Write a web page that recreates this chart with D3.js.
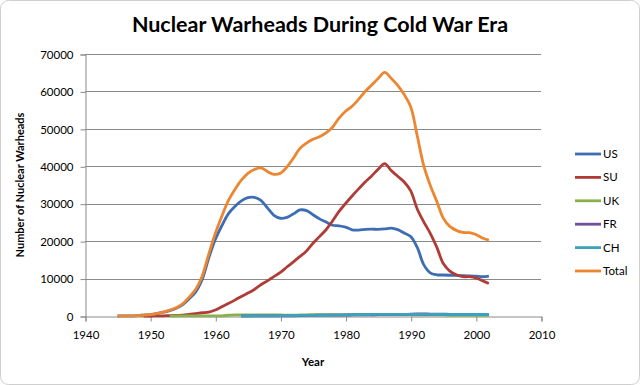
<!DOCTYPE html>
<html lang="en">
<head>
    <meta charset="UTF-8">
    <script src="https://d3js.org/d3.v7.min.js"></script>
    <title>Nuclear Warheads During Cold War Era</title>
    <style>
    body { margin: 0; background: #fff; }
    text { font-family: Lato, "Open Sans", sans-serif; fill: #000; }
    </style>
</head>
<body>
<div class="content"></div>
<script>
// nam bat dau cua cac chuoi (1945 ... 2002)
var years = d3.range(1945, 2003);
var xTicks = [1940, 1950, 1960, 1970, 1980, 1990, 2000, 2010];
var yTicks = [0, 10000, 20000, 30000, 40000, 50000, 60000, 70000];
var seriesNames = ['US', 'SU', 'UK', 'FR', 'CH', 'Total'];

// gia tri doc tu hinh, null = chua co
var us = [6, 11, 32, 110, 235, 369, 640, 1005, 1436, 2063, 3057, 4618, 6444, 9822, 15468, 20434,
    24111, 27297, 29249, 30751, 31642, 31700, 30893, 28884, 26910, 26119, 26365, 27296, 28335, 28170,
    27052, 25956, 25099, 24243, 24107, 23764, 23031, 22937, 23154, 23228, 23135, 23254, 23490, 23077,
    22174, 21211, 18306, 13731, 11536, 11012, 10953, 10886, 10829, 10763, 10698, 10615, 10491, 10640];
var su = [null, null, null, null, 1, 5, 25, 50, 120, 150, 200, 426, 660, 869, 1060, 1605,
    2471, 3322, 4238, 5221, 6129, 7089, 8339, 9399, 10538, 11643, 13092, 14478, 15915, 17385,
    19443, 21205, 23044, 25393, 27935, 30062, 32049, 33952, 35804, 37431, 39197, 40723, 38859, 37333,
    35805, 33417, 28595, 25155, 22101, 18399, 14000, 12000, 11000, 10500, 10500, 10200, 9400, 8700];
var uk = [null, null, null, null, null, null, null, null, 1, 5, 10, 15, 20, 22, 25, 30,
    50, 205, 280, 310, 310, 310, 270, 280, 308, 280, 220, 220, 275, 325,
    350, 350, 350, 350, 350, 350, 350, 350, 350, 350, 350, 350, 350, 350,
    350, 350, 300, 300, 300, 300, 300, 200, 200, 200, 200, 200, 200, 200];
var fr = [null, null, null, null, null, null, null, null, null, null, null, null, null, null, null, null,
    null, null, null, 4, 32, 36, 36, 36, 36, 36, 45, 70, 116, 145,
    188, 212, 228, 235, 235, 250, 274, 279, 280, 280, 360, 355, 420, 411,
    412, 504, 538, 540, 525, 510, 500, 450, 450, 450, 450, 350, 350, 350];
var ch = [null, null, null, null, null, null, null, null, null, null, null, null, null, null, null, null,
    null, null, null, 1, 5, 20, 25, 35, 50, 75, 100, 130, 150, 170,
    185, 190, 200, 220, 235, 280, 330, 360, 380, 414, 426, 423, 430, 430,
    430, 430, 435, 435, 435, 400, 400, 400, 400, 400, 400, 400, 400, 400];
var total = [6, 11, 32, 110, 236, 374, 665, 1055, 1557, 2218, 3267, 5059, 7124, 10713, 16553, 22069,
    26632, 30824, 33767, 36287, 38118, 39155, 39563, 38634, 37842, 38153, 39822, 42194, 44791, 46195,
    47218, 47913, 48921, 50441, 52862, 54706, 56034, 57878, 59968, 61703, 63468, 65105, 63549, 61601,
    59171, 55912, 48174, 40161, 34897, 30621, 26153, 23936, 22879, 22313, 22248, 21765, 20841, 20290];

var seriesValues = [us, su, uk, fr, ch, total];
var colors = ['#3d6db3', '#b03c38', '#8ab14c', '#6f519a', '#3aa2bd', '#ec8630'];

var p = { width: 640, height: 385, left: 85, right: 541, top: 54, bottom: 316 };

var svg = d3.select('.content').append('svg')
    .attr('width', p.width)
    .attr('height', p.height);

// khung ngoai
svg.append('rect')
    .attr('x', 0.5).attr('y', 0.5)
    .attr('width', p.width - 1).attr('height', p.height - 1)
    .attr('rx', 8)
    .attr('fill', '#fff')
    .attr('stroke', '#cfcfcf');

var x = d3.scaleLinear().domain([1940, 2010]).range([p.left, p.right]);
var y = d3.scaleLinear().domain([0, 70000]).range([p.bottom, p.top]);

// luoi ngang
svg.append('g')
    .selectAll('line')
    .data(yTicks.slice(1))
    .enter().append('line')
    .attr('x1', p.left).attr('x2', p.right)
    .attr('y1', function(d) { return Math.round(y(d)) + 0.5; })
    .attr('y2', function(d) { return Math.round(y(d)) + 0.5; })
    .attr('stroke', '#8a8a8a');

// truc y
var yAxis = svg.append('g')
    .attr('transform', 'translate(' + (p.left + 0.5) + ',0.5)')
    .call(d3.axisLeft(y).tickValues(yTicks).tickSize(5).tickPadding(7).tickFormat(d3.format('d')));
yAxis.select('.domain').attr('stroke', '#8a8a8a');
yAxis.selectAll('.tick line').attr('stroke', '#8a8a8a');
yAxis.selectAll('text').style('font-size', '11.5px').attr('fill', '#000');

// truc x
var xAxis = svg.append('g')
    .attr('transform', 'translate(0.5,' + (p.bottom + 0.5) + ')')
    .call(d3.axisBottom(x).tickValues(xTicks).tickSize(5).tickPadding(9).tickFormat(d3.format('d')));
xAxis.select('.domain').attr('stroke', '#8a8a8a');
xAxis.selectAll('.tick line').attr('stroke', '#8a8a8a');
xAxis.selectAll('text').style('font-size', '11.5px').attr('fill', '#000');

// duong du lieu
var line = d3.line()
    .defined(function(d) { return d[1] !== null; })
    .x(function(d) { return x(d[0]); })
    .y(function(d) { return y(d[1]); })
    .curve(d3.curveCatmullRom.alpha(0.5));

seriesValues.forEach(function(vals, i) {
    svg.append('path')
        .datum(years.map(function(yr, j) { return [yr, vals[j]]; }))
        .attr('d', line)
        .attr('fill', 'none')
        .attr('stroke', colors[i])
        .attr('stroke-width', 2.8)
        .attr('stroke-linejoin', 'round');
});

// chu thich
var legend = svg.append('g');
seriesNames.forEach(function(name, i) {
    var ly = 154 + i * 23.4;
    legend.append('line')
        .attr('x1', 575).attr('x2', 601)
        .attr('y1', ly).attr('y2', ly)
        .attr('stroke', colors[i])
        .attr('stroke-width', 2.8);
    legend.append('text')
        .attr('x', 603).attr('y', ly + 4)
        .style('font-size', '11.5px')
        .text(name);
});

// tieu de
svg.append('text')
    .attr('x', 320).attr('y', 32)
    .attr('text-anchor', 'middle')
    .style('font-size', '21.5px')
    .style('font-weight', 'bold')
    .text('Nuclear Warheads During Cold War Era');

svg.append('text')
    .attr('transform', 'translate(24,185) rotate(-90)')
    .attr('text-anchor', 'middle')
    .style('font-size', '11px')
    .style('font-weight', 'bold')
    .text('Number of Nuclear Warheads');

svg.append('text')
    .attr('x', 313).attr('y', 366)
    .attr('text-anchor', 'middle')
    .style('font-size', '11.5px')
    .style('font-weight', 'bold')
    .text('Year');
</script>
</body>
</html>
